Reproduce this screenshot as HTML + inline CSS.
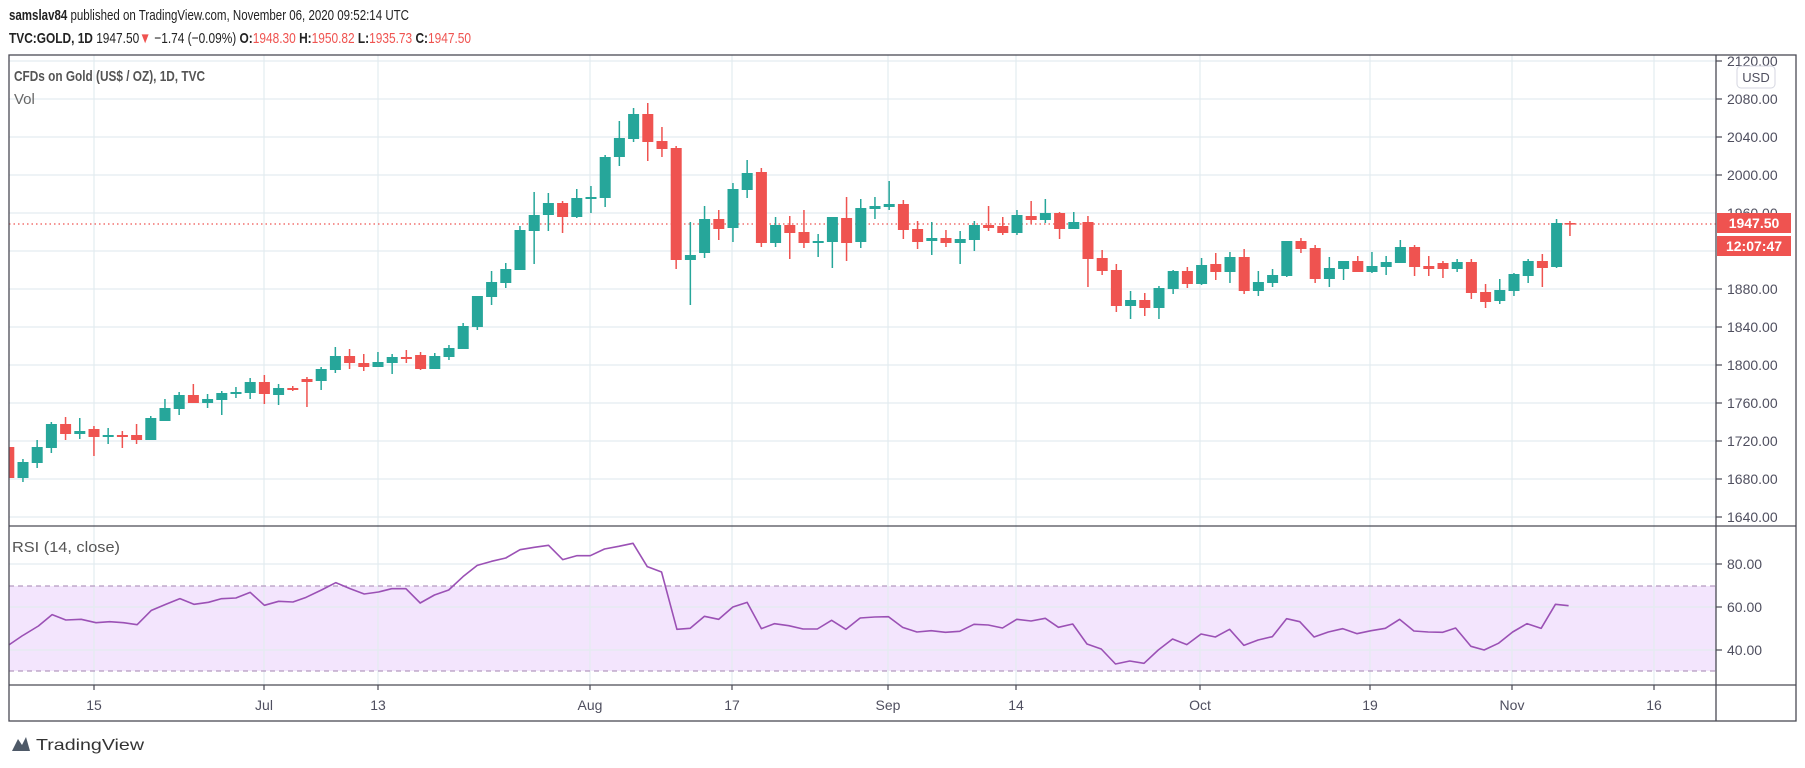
<!DOCTYPE html>
<html><head><meta charset="utf-8"><style>
html,body{margin:0;padding:0;background:#fff;}
svg{display:block;font-family:"Liberation Sans",sans-serif;}
.g{fill:#26a69a}.r{fill:#ef5350}
.ax{font-size:14px;fill:#4f4f5f}
</style></head><body>
<svg width="1805" height="768" viewBox="0 0 1805 768" xmlns="http://www.w3.org/2000/svg">
<rect width="1805" height="768" fill="#fff"/>
<text x="9" y="20" font-size="15" fill="#222" textLength="400" lengthAdjust="spacingAndGlyphs"><tspan font-weight="bold">samslav84</tspan> published on TradingView.com, November 06, 2020 09:52:14 UTC</text>
<text x="9" y="43" font-size="15" fill="#222" textLength="462" lengthAdjust="spacingAndGlyphs"><tspan font-weight="bold">TVC:GOLD, 1D</tspan> 1947.50<tspan fill="#ef5350">▼</tspan> −1.74 (−0.09%) <tspan font-weight="bold">O:</tspan><tspan fill="#ef5350">1948.30</tspan> <tspan font-weight="bold">H:</tspan><tspan fill="#ef5350">1950.82</tspan> <tspan font-weight="bold">L:</tspan><tspan fill="#ef5350">1935.73</tspan> <tspan font-weight="bold">C:</tspan><tspan fill="#ef5350">1947.50</tspan></text>

<rect x="9" y="586" width="1707" height="85" fill="#f3e5fd"/>
<g stroke="#e3ecf0" stroke-width="1.2">
<line x1="9" x2="1716" y1="61" y2="61"/><line x1="9" x2="1716" y1="99" y2="99"/><line x1="9" x2="1716" y1="137" y2="137"/><line x1="9" x2="1716" y1="175" y2="175"/><line x1="9" x2="1716" y1="213" y2="213"/><line x1="9" x2="1716" y1="251" y2="251"/><line x1="9" x2="1716" y1="289" y2="289"/><line x1="9" x2="1716" y1="327" y2="327"/><line x1="9" x2="1716" y1="365" y2="365"/><line x1="9" x2="1716" y1="403" y2="403"/><line x1="9" x2="1716" y1="441" y2="441"/><line x1="9" x2="1716" y1="479" y2="479"/><line x1="9" x2="1716" y1="517" y2="517"/>
<line x1="9" x2="1716" y1="564" y2="564"/><line x1="9" x2="1716" y1="607" y2="607"/><line x1="9" x2="1716" y1="650" y2="650"/>
<line x1="94" x2="94" y1="55" y2="685"/><line x1="264" x2="264" y1="55" y2="685"/><line x1="378" x2="378" y1="55" y2="685"/><line x1="590" x2="590" y1="55" y2="685"/><line x1="732" x2="732" y1="55" y2="685"/><line x1="888" x2="888" y1="55" y2="685"/><line x1="1016" x2="1016" y1="55" y2="685"/><line x1="1200" x2="1200" y1="55" y2="685"/><line x1="1370" x2="1370" y1="55" y2="685"/><line x1="1512" x2="1512" y1="55" y2="685"/><line x1="1654" x2="1654" y1="55" y2="685"/>
</g>
<g stroke="#b59bc0" stroke-width="1.2" stroke-dasharray="5,4"><line x1="9" x2="1716" y1="586" y2="586"/><line x1="9" x2="1716" y1="671" y2="671"/></g>

<line x1="9" x2="1716" y1="224" y2="224" stroke="#ef5350" stroke-width="1.3" stroke-dasharray="1.5,3"/>

<svg x="9" y="55" width="1707" height="471" viewBox="9 55 1707 471" overflow="hidden">
<g id="c">
<rect class="r" x="8" y="444" width="1.5" height="44"/><rect class="r" x="3.3" y="447" width="11" height="31"/>
<rect class="g" x="22.2" y="459" width="1.5" height="23"/><rect class="g" x="17.5" y="462" width="11" height="16"/>
<rect class="g" x="36.4" y="440" width="1.5" height="28"/><rect class="g" x="31.7" y="447" width="11" height="16"/>
<rect class="g" x="50.6" y="422" width="1.5" height="31"/><rect class="g" x="45.9" y="424" width="11" height="24"/>
<rect class="r" x="64.8" y="417" width="1.5" height="23"/><rect class="r" x="60.1" y="424" width="11" height="10"/>
<rect class="g" x="79" y="418" width="1.5" height="21"/><rect class="g" x="74.3" y="431" width="11" height="3"/>
<rect class="r" x="93.2" y="426" width="1.5" height="30"/><rect class="r" x="88.5" y="429" width="11" height="8"/>
<rect class="g" x="107.4" y="428" width="1.5" height="16"/><rect class="g" x="102.7" y="435" width="11" height="2"/>
<rect class="r" x="121.6" y="431" width="1.5" height="17"/><rect class="r" x="116.9" y="435" width="11" height="2"/>
<rect class="r" x="135.8" y="424" width="1.5" height="20"/><rect class="r" x="131.1" y="435" width="11" height="5"/>
<rect class="g" x="150" y="416" width="1.5" height="24"/><rect class="g" x="145.3" y="418" width="11" height="22"/>
<rect class="g" x="164.2" y="399" width="1.5" height="22"/><rect class="g" x="159.5" y="408" width="11" height="13"/>
<rect class="g" x="178.4" y="392" width="1.5" height="23"/><rect class="g" x="173.7" y="395" width="11" height="14"/>
<rect class="r" x="192.6" y="384" width="1.5" height="19"/><rect class="r" x="187.9" y="395" width="11" height="8"/>
<rect class="g" x="206.8" y="394" width="1.5" height="14"/><rect class="g" x="202.1" y="399" width="11" height="4"/>
<rect class="g" x="221" y="391" width="1.5" height="24"/><rect class="g" x="216.3" y="393" width="11" height="7"/>
<rect class="g" x="235.2" y="387" width="1.5" height="11"/><rect class="g" x="230.5" y="392" width="11" height="2"/>
<rect class="g" x="249.4" y="378" width="1.5" height="21"/><rect class="g" x="244.7" y="382" width="11" height="11"/>
<rect class="r" x="263.6" y="375" width="1.5" height="29"/><rect class="r" x="258.9" y="382" width="11" height="12"/>
<rect class="g" x="277.8" y="384" width="1.5" height="21"/><rect class="g" x="273.1" y="388" width="11" height="7"/>
<rect class="r" x="292" y="386" width="1.5" height="5"/><rect class="r" x="287.3" y="388" width="11" height="2"/>
<rect class="r" x="306.2" y="377" width="1.5" height="30"/><rect class="r" x="301.5" y="379" width="11" height="3"/>
<rect class="g" x="320.4" y="367" width="1.5" height="23"/><rect class="g" x="315.7" y="369" width="11" height="12"/>
<rect class="g" x="334.6" y="347" width="1.5" height="26"/><rect class="g" x="329.9" y="356" width="11" height="14"/>
<rect class="r" x="348.8" y="349" width="1.5" height="20"/><rect class="r" x="344.1" y="356" width="11" height="7"/>
<rect class="r" x="363" y="354" width="1.5" height="17"/><rect class="r" x="358.3" y="363" width="11" height="4"/>
<rect class="g" x="377.2" y="352" width="1.5" height="15"/><rect class="g" x="372.5" y="362" width="11" height="5"/>
<rect class="g" x="391.4" y="354" width="1.5" height="20"/><rect class="g" x="386.7" y="357" width="11" height="6"/>
<rect class="r" x="405.6" y="350" width="1.5" height="13"/><rect class="r" x="400.9" y="357" width="11" height="2"/>
<rect class="r" x="419.8" y="352" width="1.5" height="18"/><rect class="r" x="415.1" y="355" width="11" height="14"/>
<rect class="g" x="434" y="353" width="1.5" height="16"/><rect class="g" x="429.3" y="356" width="11" height="13"/>
<rect class="g" x="448.2" y="345" width="1.5" height="15"/><rect class="g" x="443.5" y="348" width="11" height="9"/>
<rect class="g" x="462.4" y="323" width="1.5" height="26"/><rect class="g" x="457.7" y="326" width="11" height="23"/>
<rect class="g" x="476.6" y="296" width="1.5" height="34"/><rect class="g" x="471.9" y="296" width="11" height="31"/>
<rect class="g" x="490.8" y="271" width="1.5" height="34"/><rect class="g" x="486.1" y="282" width="11" height="15"/>
<rect class="g" x="505" y="263" width="1.5" height="25"/><rect class="g" x="500.3" y="269" width="11" height="14"/>
<rect class="g" x="519.2" y="226" width="1.5" height="44"/><rect class="g" x="514.5" y="230" width="11" height="40"/>
<rect class="g" x="533.4" y="192" width="1.5" height="72"/><rect class="g" x="528.7" y="215" width="11" height="16"/>
<rect class="g" x="547.6" y="193" width="1.5" height="38"/><rect class="g" x="542.9" y="203" width="11" height="12"/>
<rect class="r" x="561.8" y="201" width="1.5" height="32"/><rect class="r" x="557.1" y="203" width="11" height="14"/>
<rect class="g" x="576" y="189" width="1.5" height="29"/><rect class="g" x="571.3" y="198" width="11" height="19"/>
<rect class="g" x="590.2" y="186" width="1.5" height="27"/><rect class="g" x="585.5" y="197" width="11" height="2"/>
<rect class="g" x="604.4" y="155" width="1.5" height="52"/><rect class="g" x="599.7" y="157" width="11" height="41"/>
<rect class="g" x="618.6" y="121" width="1.5" height="45"/><rect class="g" x="613.9" y="138" width="11" height="19"/>
<rect class="g" x="632.8" y="108" width="1.5" height="34"/><rect class="g" x="628.1" y="114" width="11" height="25"/>
<rect class="r" x="647" y="103" width="1.5" height="58"/><rect class="r" x="642.3" y="114" width="11" height="28"/>
<rect class="r" x="661.2" y="127" width="1.5" height="30"/><rect class="r" x="656.5" y="141" width="11" height="8"/>
<rect class="r" x="675.4" y="146" width="1.5" height="123"/><rect class="r" x="670.7" y="148" width="11" height="112"/>
<rect class="g" x="689.6" y="222" width="1.5" height="83"/><rect class="g" x="684.9" y="255" width="11" height="5"/>
<rect class="g" x="703.8" y="206" width="1.5" height="52"/><rect class="g" x="699.1" y="219" width="11" height="34"/>
<rect class="r" x="718" y="210" width="1.5" height="30"/><rect class="r" x="713.3" y="219" width="11" height="10"/>
<rect class="g" x="732.2" y="183" width="1.5" height="59"/><rect class="g" x="727.5" y="189" width="11" height="39"/>
<rect class="g" x="746.4" y="160" width="1.5" height="38"/><rect class="g" x="741.7" y="173" width="11" height="17"/>
<rect class="r" x="760.6" y="168" width="1.5" height="79"/><rect class="r" x="755.9" y="172" width="11" height="71"/>
<rect class="g" x="774.8" y="217" width="1.5" height="30"/><rect class="g" x="770.1" y="225" width="11" height="18"/>
<rect class="r" x="789" y="216" width="1.5" height="43"/><rect class="r" x="784.3" y="225" width="11" height="8"/>
<rect class="r" x="803.2" y="210" width="1.5" height="38"/><rect class="r" x="798.5" y="232" width="11" height="11"/>
<rect class="g" x="817.4" y="234" width="1.5" height="23"/><rect class="g" x="812.7" y="241" width="11" height="2"/>
<rect class="g" x="831.6" y="217" width="1.5" height="51"/><rect class="g" x="826.9" y="217" width="11" height="25"/>
<rect class="r" x="845.8" y="197" width="1.5" height="64"/><rect class="r" x="841.1" y="218" width="11" height="25"/>
<rect class="g" x="860" y="199" width="1.5" height="49"/><rect class="g" x="855.3" y="208" width="11" height="34"/>
<rect class="g" x="874.2" y="197" width="1.5" height="22"/><rect class="g" x="869.5" y="206" width="11" height="3"/>
<rect class="g" x="888.4" y="181" width="1.5" height="29"/><rect class="g" x="883.7" y="204" width="11" height="3"/>
<rect class="r" x="902.6" y="200" width="1.5" height="39"/><rect class="r" x="897.9" y="204" width="11" height="26"/>
<rect class="r" x="916.8" y="221" width="1.5" height="28"/><rect class="r" x="912.1" y="229" width="11" height="13"/>
<rect class="g" x="931" y="222" width="1.5" height="33"/><rect class="g" x="926.3" y="238" width="11" height="3"/>
<rect class="r" x="945.2" y="230" width="1.5" height="17"/><rect class="r" x="940.5" y="238" width="11" height="5"/>
<rect class="g" x="959.4" y="231" width="1.5" height="33"/><rect class="g" x="954.7" y="239" width="11" height="4"/>
<rect class="g" x="973.6" y="221" width="1.5" height="30"/><rect class="g" x="968.9" y="225" width="11" height="15"/>
<rect class="r" x="987.8" y="206" width="1.5" height="25"/><rect class="r" x="983.1" y="225" width="11" height="3"/>
<rect class="r" x="1002" y="217" width="1.5" height="18"/><rect class="r" x="997.3" y="226" width="11" height="7"/>
<rect class="g" x="1016.2" y="210" width="1.5" height="25"/><rect class="g" x="1011.5" y="215" width="11" height="18"/>
<rect class="r" x="1030.4" y="201" width="1.5" height="23"/><rect class="r" x="1025.7" y="216" width="11" height="4"/>
<rect class="g" x="1044.6" y="199" width="1.5" height="24"/><rect class="g" x="1039.9" y="213" width="11" height="7"/>
<rect class="r" x="1058.8" y="212" width="1.5" height="27"/><rect class="r" x="1054.1" y="213" width="11" height="16"/>
<rect class="g" x="1073" y="212" width="1.5" height="17"/><rect class="g" x="1068.3" y="222" width="11" height="7"/>
<rect class="r" x="1087.2" y="216" width="1.5" height="71"/><rect class="r" x="1082.5" y="222" width="11" height="37"/>
<rect class="r" x="1101.4" y="250" width="1.5" height="25"/><rect class="r" x="1096.7" y="258" width="11" height="13"/>
<rect class="r" x="1115.6" y="264" width="1.5" height="48"/><rect class="r" x="1110.9" y="270" width="11" height="36"/>
<rect class="g" x="1129.8" y="291" width="1.5" height="28"/><rect class="g" x="1125.1" y="300" width="11" height="6"/>
<rect class="r" x="1144" y="293" width="1.5" height="23"/><rect class="r" x="1139.3" y="300" width="11" height="8"/>
<rect class="g" x="1158.2" y="286" width="1.5" height="33"/><rect class="g" x="1153.5" y="288" width="11" height="20"/>
<rect class="g" x="1172.4" y="270" width="1.5" height="24"/><rect class="g" x="1167.7" y="271" width="11" height="18"/>
<rect class="r" x="1186.6" y="267" width="1.5" height="21"/><rect class="r" x="1181.9" y="271" width="11" height="13"/>
<rect class="g" x="1200.8" y="258" width="1.5" height="27"/><rect class="g" x="1196.1" y="265" width="11" height="19"/>
<rect class="r" x="1215" y="253" width="1.5" height="27"/><rect class="r" x="1210.3" y="264" width="11" height="8"/>
<rect class="g" x="1229.2" y="252" width="1.5" height="31"/><rect class="g" x="1224.5" y="257" width="11" height="15"/>
<rect class="r" x="1243.4" y="249" width="1.5" height="45"/><rect class="r" x="1238.7" y="257" width="11" height="34"/>
<rect class="g" x="1257.6" y="271" width="1.5" height="25"/><rect class="g" x="1252.9" y="282" width="11" height="9"/>
<rect class="g" x="1271.8" y="269" width="1.5" height="18"/><rect class="g" x="1267.1" y="275" width="11" height="8"/>
<rect class="g" x="1286" y="241" width="1.5" height="36"/><rect class="g" x="1281.3" y="241" width="11" height="35"/>
<rect class="r" x="1300.2" y="238" width="1.5" height="15"/><rect class="r" x="1295.5" y="241" width="11" height="8"/>
<rect class="r" x="1314.4" y="245" width="1.5" height="38"/><rect class="r" x="1309.7" y="248" width="11" height="31"/>
<rect class="g" x="1328.6" y="257" width="1.5" height="30"/><rect class="g" x="1323.9" y="268" width="11" height="11"/>
<rect class="g" x="1342.8" y="261" width="1.5" height="19"/><rect class="g" x="1338.1" y="261" width="11" height="8"/>
<rect class="r" x="1357" y="256" width="1.5" height="16"/><rect class="r" x="1352.3" y="261" width="11" height="11"/>
<rect class="g" x="1371.2" y="252" width="1.5" height="21"/><rect class="g" x="1366.5" y="266" width="11" height="6"/>
<rect class="g" x="1385.4" y="256" width="1.5" height="19"/><rect class="g" x="1380.7" y="262" width="11" height="5"/>
<rect class="g" x="1399.6" y="240" width="1.5" height="23"/><rect class="g" x="1394.9" y="247" width="11" height="16"/>
<rect class="r" x="1413.8" y="245" width="1.5" height="31"/><rect class="r" x="1409.1" y="247" width="11" height="20"/>
<rect class="r" x="1428" y="256" width="1.5" height="20"/><rect class="r" x="1423.3" y="266" width="11" height="3"/>
<rect class="r" x="1442.2" y="261" width="1.5" height="17"/><rect class="r" x="1437.5" y="263" width="11" height="6"/>
<rect class="g" x="1456.4" y="259" width="1.5" height="13"/><rect class="g" x="1451.7" y="262" width="11" height="7"/>
<rect class="r" x="1470.6" y="259" width="1.5" height="40"/><rect class="r" x="1465.9" y="262" width="11" height="31"/>
<rect class="r" x="1484.8" y="284" width="1.5" height="24"/><rect class="r" x="1480.1" y="292" width="11" height="10"/>
<rect class="g" x="1499" y="279" width="1.5" height="25"/><rect class="g" x="1494.3" y="290" width="11" height="11"/>
<rect class="g" x="1513.2" y="273" width="1.5" height="23"/><rect class="g" x="1508.5" y="274" width="11" height="17"/>
<rect class="g" x="1527.4" y="259" width="1.5" height="24"/><rect class="g" x="1522.7" y="261" width="11" height="15"/>
<rect class="r" x="1541.6" y="254" width="1.5" height="33"/><rect class="r" x="1536.9" y="261" width="11" height="7"/>
<rect class="g" x="1555.8" y="219" width="1.5" height="49"/><rect class="g" x="1551.1" y="223" width="11" height="44"/>
<rect class="r" x="1569.2" y="221" width="1.5" height="15"/><rect class="r" x="1564.5" y="223" width="11" height="1.6"/>
</g>
</svg>

<g fill="none" stroke="#9b51b5" stroke-width="1.6" stroke-linejoin="round">
<polyline vector-effect="non-scaling-stroke" transform="translate(0,530) scale(0.54855,0.33333)" points="16,345 40,318 70,288 95,254 120,270 148,268 175,278 200,275 225,278 250,284 276,241 302,223 328,206 354,223 380,217 404,206 430,204 456,187 482,226 508,214 534,216 558,202 586,180 612,158 638,176 664,192 690,186 714,176 740,176 766,219 792,195 818,180 844,140 870,106 896,94 922,84 948,59 974,52 1000,46 1026,89 1052,77 1076,77 1102,57 1128,49 1154,40 1180,110 1206,126 1234,298 1258,295 1284,259 1310,268 1336,231 1362,217 1388,296 1412,281 1438,287 1464,297 1490,297 1516,271 1542,298 1568,264"/>
<polyline vector-effect="non-scaling-stroke" transform="translate(850,530) scale(0.54855,0.33333)" points="18,264 45,261 70,260 96,292 122,306 148,302 174,307 200,304 226,283 252,285 278,294 304,268 330,273 356,265 380,292 406,282 432,342 458,357 484,402 510,393 536,400 562,360 588,327 614,344 640,312 666,321 692,298 718,346 744,330 770,320 796,266 820,275 846,321 872,306 898,296 924,311 950,302 976,295 1002,268 1028,303 1054,306 1080,307 1104,294 1132,349 1156,360 1182,340 1208,306 1234,281 1260,295 1286,223 1310,227"/>
</g>

<g stroke="#4a4a55" stroke-width="1.3" fill="none">
<rect x="9" y="55" width="1787" height="666"/>
<line x1="1716" x2="1716" y1="55" y2="721"/>
<line x1="9" x2="1796" y1="526" y2="526"/>
<line x1="9" x2="1796" y1="685" y2="685"/>
</g>
<g stroke="#4a4a55" stroke-width="1.2">
<line x1="1716" x2="1722" y1="61" y2="61"/><line x1="1716" x2="1722" y1="99" y2="99"/><line x1="1716" x2="1722" y1="137" y2="137"/><line x1="1716" x2="1722" y1="175" y2="175"/><line x1="1716" x2="1722" y1="289" y2="289"/><line x1="1716" x2="1722" y1="327" y2="327"/><line x1="1716" x2="1722" y1="365" y2="365"/><line x1="1716" x2="1722" y1="403" y2="403"/><line x1="1716" x2="1722" y1="441" y2="441"/><line x1="1716" x2="1722" y1="479" y2="479"/><line x1="1716" x2="1722" y1="517" y2="517"/>
<line x1="1716" x2="1722" y1="564" y2="564"/><line x1="1716" x2="1722" y1="607" y2="607"/><line x1="1716" x2="1722" y1="650" y2="650"/>
<line x1="94" x2="94" y1="685" y2="690"/><line x1="264" x2="264" y1="685" y2="690"/><line x1="378" x2="378" y1="685" y2="690"/><line x1="590" x2="590" y1="685" y2="690"/><line x1="732" x2="732" y1="685" y2="690"/><line x1="888" x2="888" y1="685" y2="690"/><line x1="1016" x2="1016" y1="685" y2="690"/><line x1="1200" x2="1200" y1="685" y2="690"/><line x1="1370" x2="1370" y1="685" y2="690"/><line x1="1512" x2="1512" y1="685" y2="690"/><line x1="1654" x2="1654" y1="685" y2="690"/>
</g>
<g class="ax">
<text x="1727" y="66">2120.00</text><text x="1727" y="104">2080.00</text><text x="1727" y="142">2040.00</text><text x="1727" y="180">2000.00</text><text x="1727" y="218">1960.00</text><text x="1727" y="294">1880.00</text><text x="1727" y="332">1840.00</text><text x="1727" y="370">1800.00</text><text x="1727" y="408">1760.00</text><text x="1727" y="446">1720.00</text><text x="1727" y="484">1680.00</text><text x="1727" y="522">1640.00</text>
<text x="1727" y="569">80.00</text><text x="1727" y="612">60.00</text><text x="1727" y="655">40.00</text>
</g>
<g class="ax" text-anchor="middle">
<text x="94" y="710">15</text><text x="264" y="710">Jul</text><text x="378" y="710">13</text><text x="590" y="710">Aug</text><text x="732" y="710">17</text><text x="888" y="710">Sep</text><text x="1016" y="710">14</text><text x="1200" y="710">Oct</text><text x="1370" y="710">19</text><text x="1512" y="710">Nov</text><text x="1654" y="710">16</text>
</g>
<rect x="1717" y="213" width="74" height="20" fill="#ef5350"/>
<text x="1754" y="228" text-anchor="middle" font-size="14" font-weight="bold" fill="#fff">1947.50</text>
<rect x="1717" y="236" width="74" height="20" fill="#ef5350"/>
<text x="1754" y="251" text-anchor="middle" font-size="14" font-weight="bold" fill="#fff">12:07:47</text>
<rect x="1737" y="66" width="38" height="22" rx="4" fill="#fff" stroke="#d4d6e0"/>
<text x="1756" y="82" text-anchor="middle" font-size="13" fill="#4f4f5f">USD</text>

<text x="14" y="81" font-size="15" font-weight="bold" fill="#555" textLength="191" lengthAdjust="spacingAndGlyphs">CFDs on Gold (US$ / OZ), 1D, TVC</text>
<text x="14" y="104" font-size="15" fill="#666">Vol</text>
<text x="12" y="552" font-size="15" fill="#555" textLength="108" lengthAdjust="spacingAndGlyphs">RSI (14, close)</text>

<g transform="translate(12,735)">
<path d="M0 16 L6 4 L10 10 L14 2 L18 16 Z" fill="#2f3c4c" opacity="0.85"/>
<text x="24" y="15" font-size="16" fill="#333" textLength="108" lengthAdjust="spacingAndGlyphs">TradingView</text>
</g>
</svg>
</body></html>
